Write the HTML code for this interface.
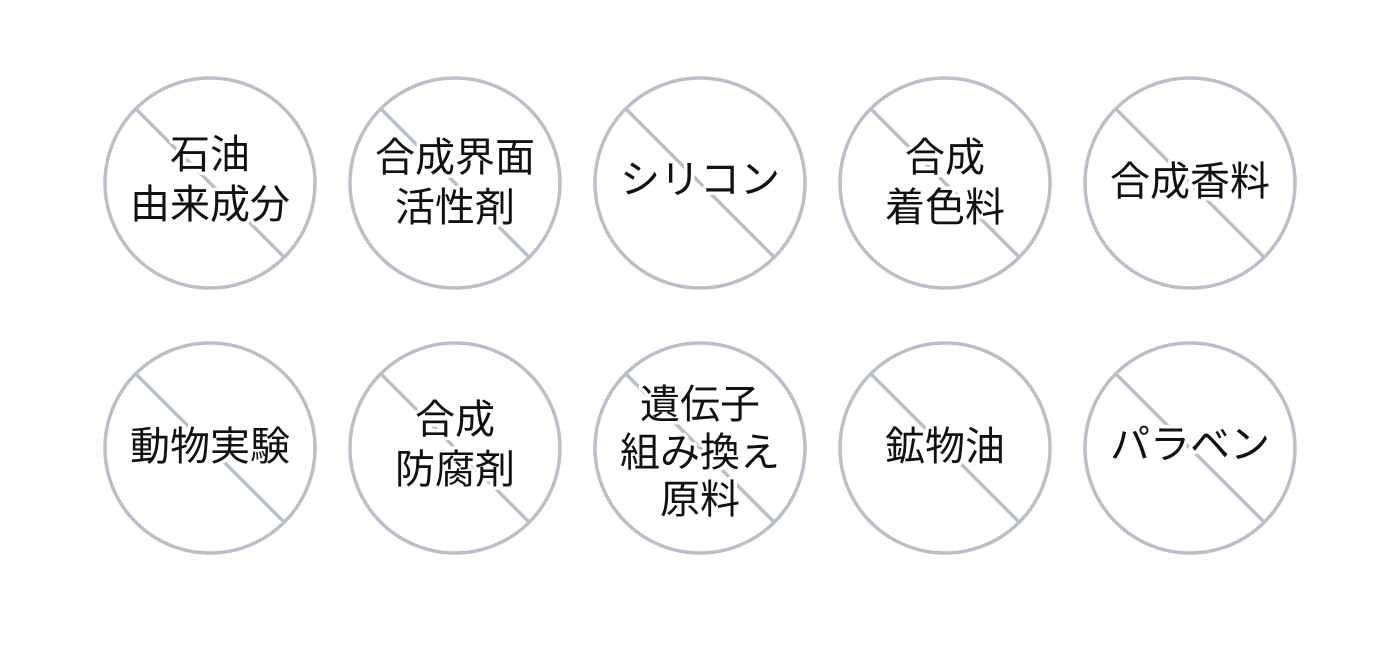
<!DOCTYPE html>
<html><head><meta charset="utf-8"><style>
html,body{margin:0;padding:0;background:#fff;width:1400px;height:651px;overflow:hidden}
text{font-family:"Liberation Sans","Noto Sans CJK JP",sans-serif;font-size:40px;font-weight:400;fill:#111;text-anchor:middle;dominant-baseline:central;stroke:#fff;stroke-width:7px;paint-order:stroke;stroke-linejoin:round}
</style></head><body>
<svg width="1400" height="651" viewBox="0 0 1400 651" xmlns="http://www.w3.org/2000/svg">
<g fill="none" stroke="#b9c0ca" stroke-width="3.5">
<circle cx="210" cy="183" r="105"/><line x1="136" y1="109" x2="284" y2="257"/>
<circle cx="455" cy="183" r="105"/><line x1="381" y1="109" x2="529" y2="257"/>
<circle cx="700" cy="183" r="105"/><line x1="626" y1="109" x2="774" y2="257"/>
<circle cx="945" cy="183" r="105"/><line x1="871" y1="109" x2="1019" y2="257"/>
<circle cx="1190" cy="183" r="105"/><line x1="1116" y1="109" x2="1264" y2="257"/>
<circle cx="210" cy="448" r="105"/><line x1="136" y1="374" x2="284" y2="522"/>
<circle cx="455" cy="448" r="105"/><line x1="381" y1="374" x2="529" y2="522"/>
<circle cx="700" cy="448" r="105"/><line x1="626" y1="374" x2="774" y2="522"/>
<circle cx="945" cy="448" r="105"/><line x1="871" y1="374" x2="1019" y2="522"/>
<circle cx="1190" cy="448" r="105"/><line x1="1116" y1="374" x2="1264" y2="522"/>
</g>
<text x="210" y="155">石油</text><text x="210" y="205">由来成分</text>
<text x="455" y="158">合成界面</text><text x="455" y="208">活性剤</text>
<text x="700" y="180">シリコン</text>
<text x="945" y="158">合成</text><text x="945" y="208">着色料</text>
<text x="1190" y="182">合成香料</text>
<text x="210" y="447">動物実験</text>
<text x="455" y="420">合成</text><text x="455" y="470">防腐剤</text>
<text x="700" y="405">遺伝子</text><text x="700" y="453">組み換え</text><text x="700" y="500">原料</text>
<text x="945" y="447">鉱物油</text>
<text x="1190" y="445">パラベン</text>
</svg>
</body></html>
